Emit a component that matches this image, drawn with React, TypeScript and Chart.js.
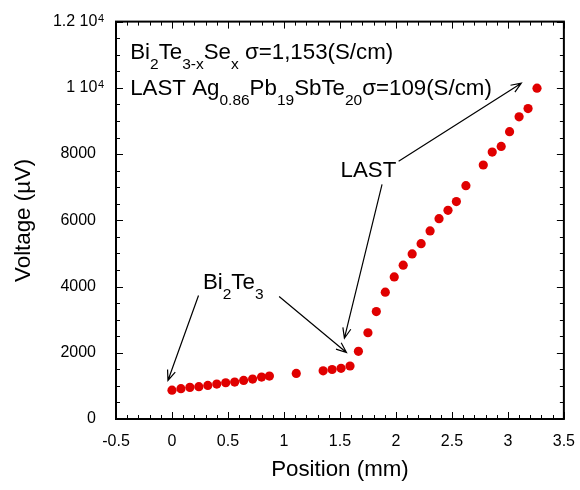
import React, { useEffect, useRef } from "react";
import { Chart, registerables } from "chart.js";

Chart.register(...registerables);

const positions = [0, 0.08, 0.16, 0.24, 0.32, 0.4, 0.48, 0.56, 0.64, 0.72, 0.8, 0.87, 1.11, 1.35, 1.43, 1.51, 1.59, 1.665, 1.75, 1.825, 1.905, 1.985, 2.065, 2.145, 2.225, 2.305, 2.385, 2.465, 2.54, 2.625, 2.78, 2.86, 2.94, 3.015, 3.1, 3.18, 3.26];
const voltages = [870, 915, 955, 975, 1015, 1055, 1095, 1115, 1165, 1205, 1265, 1295, 1375, 1455, 1495, 1530, 1600, 2045, 2605, 3245, 3830, 4290, 4645, 4985, 5295, 5680, 6050, 6300, 6565, 7045, 7670, 8060, 8230, 8675, 9125, 9375, 9990];

const xTicks = [-0.5, 0, 0.5, 1, 1.5, 2, 2.5, 3, 3.5];
const yTicks = [0, 2000, 4000, 6000, 8000, 10000, 12000];
// labels in "mantissa 10^exp" form for the large ticks
const yTickSci: Record<number, [string, string]> = { 10000: ["1 10", "4"], 12000: ["1.2 10", "4"] };

type Part = [string, boolean];
const line1: Part[] = [["Bi", false], ["2", true], ["Te", false], ["3-x", true], ["Se", false], ["x", true], [" \u03c3=1,153(S/cm)", false]];
const line2: Part[] = [["LAST Ag", false], ["0.86", true], ["Pb", false], ["19", true], ["SbTe", false], ["20", true], ["\u03c3=109(S/cm)", false]];
const labelBi: Part[] = [["Bi", false], ["2", true], ["Te", false], ["3", true]];
const labelLast: Part[] = [["LAST", false]];

const texts: { at: [number, number]; parts: Part[] }[] = [
  { at: [-0.373, 10881], parts: line1 },
  { at: [-0.373, 9791], parts: line2 },
  { at: [0.276, 3940], parts: labelBi },
  { at: [1.505, 7313], parts: labelLast },
];

const arrows: { from: [number, number]; to: [number, number] }[] = [
  { from: [0.237, 3731], to: [-0.036, 1164] },
  { from: [0.957, 3701], to: [1.558, 2009] },
  { from: [1.876, 7084], to: [1.54, 2439] },
  { from: [2.024, 7782], to: [3.12, 10140] },
];

const FONT = '"Liberation Sans", Arial, Helvetica, sans-serif';
const BIG = 22.3;
const SUB = 15.5;
const TICK = 16;

const framePlugin = {
  id: "frame",
  afterDraw(chart: any) {
    const { ctx, chartArea: a, scales } = chart;
    const xs = scales.x, ys = scales.y;
    ctx.save();
    ctx.strokeStyle = "#000";
    ctx.lineWidth = 1;
    for (let i = -5; i <= 35; i++) {
      const v = i / 10;
      const px = Math.round(xs.getPixelForValue(v)) + 0.5;
      const len = i % 5 === 0 ? 7 : 4;
      ctx.beginPath();
      ctx.moveTo(px, a.bottom); ctx.lineTo(px, a.bottom - len);
      ctx.moveTo(px, a.top); ctx.lineTo(px, a.top + len);
      ctx.stroke();
    }
    for (let v = 0; v <= 12000; v += 500) {
      const py = Math.round(ys.getPixelForValue(v)) + 0.5;
      const len = v % 2000 === 0 ? 7 : 4;
      ctx.beginPath();
      ctx.moveTo(a.left, py); ctx.lineTo(a.left + len, py);
      ctx.moveTo(a.right, py); ctx.lineTo(a.right - len, py);
      ctx.stroke();
    }
    ctx.lineWidth = 2;
    ctx.strokeRect(a.left, a.top, a.right - a.left, a.bottom - a.top);

    ctx.fillStyle = "#000";
    // scientific tick labels with superscript exponent
    ctx.textAlign = "right";
    for (const k of Object.keys(yTickSci)) {
      const v = Number(k);
      const [m, e] = yTickSci[v];
      const py = ys.getPixelForValue(v);
      const xr = a.left - 12;
      ctx.font = `11px ${FONT}`;
      ctx.textBaseline = "alphabetic";
      ctx.fillText(e, xr, py + 0.5);
      const ew = ctx.measureText(e).width;
      ctx.font = `${TICK}px ${FONT}`;
      ctx.textBaseline = "middle";
      ctx.fillText(m, xr - ew - 0.5, py);
    }

    ctx.textBaseline = "alphabetic";
    ctx.textAlign = "left";
    for (const t of texts) {
      let x = xs.getPixelForValue(t.at[0]);
      const y = ys.getPixelForValue(t.at[1]);
      for (const [s, sub] of t.parts) {
        ctx.font = sub ? `${SUB}px ${FONT}` : `${BIG}px ${FONT}`;
        ctx.fillText(s, x, sub ? y + 10 : y);
        x += ctx.measureText(s).width;
      }
    }
    ctx.lineWidth = 1.2;
    for (const ar of arrows) {
      const x1 = xs.getPixelForValue(ar.from[0]), y1 = ys.getPixelForValue(ar.from[1]);
      const x2 = xs.getPixelForValue(ar.to[0]), y2 = ys.getPixelForValue(ar.to[1]);
      const ang = Math.atan2(y2 - y1, x2 - x1);
      const h = 11, spread = 0.38;
      ctx.beginPath();
      ctx.moveTo(x1, y1); ctx.lineTo(x2, y2);
      ctx.moveTo(x2 - h * Math.cos(ang - spread), y2 - h * Math.sin(ang - spread));
      ctx.lineTo(x2, y2);
      ctx.lineTo(x2 - h * Math.cos(ang + spread), y2 - h * Math.sin(ang + spread));
      ctx.stroke();
    }
    ctx.restore();
  },
};

export default function App() {
  const ref = useRef<HTMLCanvasElement>(null);
  useEffect(() => {
    if (!ref.current) return;
    const chart = new Chart(ref.current, {
      type: "scatter",
      data: {
        datasets: [
          {
            data: positions.map((p, i) => ({ x: p, y: voltages[i] })),
            backgroundColor: "#e00000",
            borderWidth: 0,
            pointRadius: 4.6,
            showLine: false,
          },
        ],
      },
      options: {
        animation: false,
        responsive: false,
        devicePixelRatio: 1,
        layout: { padding: { top: 17, right: 14, left: 0, bottom: 0 } },
        plugins: { legend: { display: false }, tooltip: { enabled: false } },
        scales: {
          x: {
            type: "linear",
            min: -0.5,
            max: 3.5,
            afterBuildTicks: (s: any) => { s.ticks = xTicks.map((v) => ({ value: v })); },
            afterFit: (s: any) => { s.height = 71; },
            grid: { display: false },
            border: { display: false },
            ticks: { color: "#000", font: { family: FONT, size: TICK }, padding: 5, maxRotation: 0, autoSkip: false, callback: (v: any) => String(v) },
            title: { display: true, text: "Position (mm)", color: "#000", font: { family: FONT, size: BIG }, padding: { top: 0, bottom: 7 } },
          },
          y: {
            type: "linear",
            min: 0,
            max: 12000,
            afterBuildTicks: (s: any) => { s.ticks = yTicks.map((v) => ({ value: v })); },
            afterFit: (s: any) => { s.width = 116; },
            grid: { display: false },
            border: { display: false },
            ticks: { color: "#000", font: { family: FONT, size: TICK }, padding: 12, autoSkip: false, callback: (v: any) => (yTickSci[v as number] ? "" : String(v)) },
            title: { display: true, text: "Voltage (\u00b5V)", color: "#000", font: { family: FONT, size: BIG }, padding: { top: 10, bottom: 0 } },
          },
        },
      },
      plugins: [framePlugin],
    });
    return () => chart.destroy();
  }, []);
  return (
    <div style={{ position: "fixed", left: 0, top: 0, width: 580, height: 490, background: "#fff" }}>
      <canvas ref={ref} width={580} height={490} />
    </div>
  );
}
